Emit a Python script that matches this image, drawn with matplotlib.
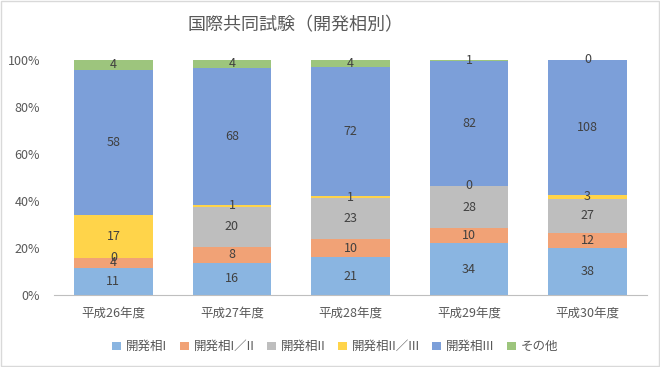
import numpy as np
import matplotlib.pyplot as plt
from matplotlib.ticker import PercentFormatter

plt.rcParams['font.family'] = ['Noto Sans CJK JP', 'DejaVu Sans']

years = ["平成26年度", "平成27年度", "平成28年度", "平成29年度", "平成30年度"]
series_names = ["開発相I", "開発相I／II", "開発相II", "開発相II／III", "開発相III", "その他"]
phase1 = [11, 16, 21, 34, 38]
phase1_2 = [4, 8, 10, 10, 12]
phase2 = [0, 20, 23, 28, 27]
phase2_3 = [17, 1, 1, 0, 3]
phase3 = [58, 68, 72, 82, 108]
other = [4, 4, 4, 1, 0]

colors = ["#8AB5E1", "#F1A276", "#BEBEBE", "#FFD44A", "#7C9FD9", "#9DC57D"]
text_col = "#595959"

data = np.array([phase1, phase1_2, phase2, phase2_3, phase3, other], dtype=float)
totals = data.sum(axis=0)
pct = data / totals * 100

fig = plt.figure(figsize=(6.6, 3.67), dpi=100)
ax = fig.add_axes([0.082, 0.196, 0.898, 0.641])
x = np.arange(len(years))
bottom = np.zeros(len(years))
for name, vals, raw, c in zip(series_names, pct, data, colors):
    ax.bar(x, vals, 0.66, bottom=bottom, color=c, label=name)
    for xi, b, v, r in zip(x, bottom, vals, raw):
        ax.text(xi, b + v / 2, f"{int(r)}", ha="center", va="center",
                fontsize=9, color="#404040")
    bottom += vals

ax.set_xlim(-0.5, len(years) - 0.5)
ax.set_ylim(0, 100)
ax.set_yticks(range(0, 101, 20))
ax.yaxis.set_major_formatter(PercentFormatter(decimals=0))
ax.set_xticks(x)
ax.set_xticklabels(years)
ax.tick_params(length=0, labelsize=9, colors=text_col)
ax.tick_params(axis="y", pad=10)
ax.tick_params(axis="x", pad=8)
for s in ["top", "right", "left"]:
    ax.spines[s].set_visible(False)
ax.spines["bottom"].set_color("#BFBFBF")

fig.text(0.447, 0.932, "国際共同試験（開発相別）", ha="center", va="center",
         fontsize=13, color=text_col)
fig.legend(loc="center", bbox_to_anchor=(0.508, 0.055), ncol=6, frameon=False,
           fontsize=9, handlelength=0.7, handleheight=0.7, handletextpad=0.4,
           columnspacing=1.0, labelcolor=text_col)

fig.patches.append(plt.Rectangle((0.001, 0.002), 0.997, 0.995, transform=fig.transFigure,
                                 fill=False, edgecolor="#D9D9D9", linewidth=1))
fig.savefig("out.png", dpi=100)
